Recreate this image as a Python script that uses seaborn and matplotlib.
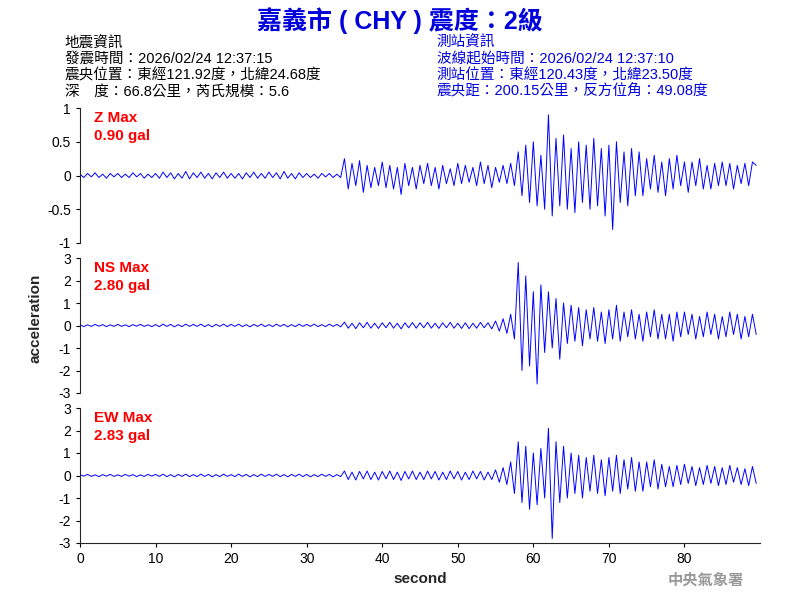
import numpy as np
import pandas as pd
import matplotlib
matplotlib.use("Agg")
import matplotlib.pyplot as plt
import seaborn as sns

sns.set_style("ticks")
plt.rcParams['font.family'] = ['Liberation Sans', 'Noto Sans CJK TC', 'DejaVu Sans']
plt.rcParams['axes.unicode_minus'] = False

# waveform samples, one every 0.5 s
z_vals = [0.02, -0.03, 0.03, -0.02, 0.04, -0.03, 0.02, -0.04, 0.03, -0.02, 0.03, -0.03, 0.02, -0.03, 0.04, -0.02, 0.03, -0.04, 0.02, -0.03,
          0.03, -0.04, 0.05, -0.03, 0.04, -0.05, 0.03, -0.04, 0.06, -0.05, 0.04, -0.03, 0.05, -0.04, 0.03, -0.05, 0.04, -0.03, 0.05, -0.04,
          0.03, -0.04, 0.03, -0.05, 0.04, -0.03, 0.05, -0.04, 0.03, -0.04, 0.05, -0.03, 0.04, -0.05, 0.06, -0.04, 0.03, -0.05, 0.04, -0.03,
          0.03, -0.03, 0.02, -0.04, 0.03, -0.02, 0.03, -0.03, 0.02, -0.03,
          0.25, -0.2, 0.18, -0.15, 0.22, -0.25, 0.15, -0.18, 0.12, -0.15, 0.2, -0.18, 0.15, -0.2, 0.12, -0.28, 0.18, -0.15, 0.12, -0.2,
          0.15, -0.12, 0.18, -0.15, 0.12, -0.2, 0.15, -0.12, 0.1, -0.15, 0.18, -0.12, 0.15, -0.1, 0.12, -0.15, 0.2, -0.12, 0.15, -0.18, 0.12, -0.1, 0.15, -0.12, 0.18, -0.15,
          0.35, -0.3, 0.45, -0.4, 0.5, -0.45, 0.3, -0.5, 0.9, -0.6, 0.55, -0.45, 0.6, -0.5, 0.4, -0.55, 0.5, -0.4, 0.45, -0.5, 0.55, -0.45, 0.4, -0.6, 0.45, -0.8, 0.5, -0.4, 0.35, -0.45, 0.4, -0.3, 0.35, -0.3,
          0.25, -0.2, 0.3, -0.25, 0.2, -0.3, 0.25, -0.2, 0.3, -0.15, 0.2, -0.25, 0.2, -0.15, 0.25, -0.2, 0.15, -0.2, 0.18, -0.15, 0.2, -0.15, 0.18, -0.2, 0.15, -0.12, 0.18, -0.15, 0.2, 0.15]

ns_vals = [0.04, -0.05, 0.03, -0.04, 0.05, -0.03, 0.04, -0.05, 0.03, -0.04, 0.05, -0.04, 0.03, -0.05, 0.04, -0.03, 0.05, -0.04, 0.03, -0.05,
           0.04, -0.05, 0.06, -0.04, 0.05, -0.06, 0.04, -0.05, 0.06, -0.04, 0.05, -0.04, 0.06, -0.05, 0.04, -0.06, 0.05, -0.04, 0.06, -0.05,
           0.05, -0.04, 0.06, -0.05, 0.04, -0.06, 0.05, -0.04, 0.06, -0.05, 0.04, -0.05, 0.06, -0.04, 0.05, -0.06, 0.04, -0.05, 0.06, -0.04,
           0.05, -0.04, 0.06, -0.05, 0.04, -0.05, 0.06, -0.04, 0.05, -0.06,
           0.15, -0.12, 0.1, -0.14, 0.12, -0.1, 0.14, -0.12, 0.1, -0.13, 0.12, -0.1, 0.14, -0.12, 0.1, -0.15, 0.12, -0.1, 0.13, -0.12,
           0.12, -0.1, 0.14, -0.12, 0.1, -0.13, 0.12, -0.1, 0.14, -0.12, 0.1, -0.13, 0.12, -0.14, 0.1, -0.12, 0.14, -0.1, 0.12, -0.15, 0.2, -0.25, 0.3, -0.35, 0.5, -0.6,
           2.8, -2.0, 2.2, -1.8, 1.5, -2.6, 1.8, -1.2, 1.5, -1.0, 1.2, -1.5, 1.0, -0.8,
           0.9, -0.7, 0.8, -0.9, 0.7, -0.6, 0.8, -0.7, 0.6, -0.8, 0.7, -0.6, 0.9, -0.7, 0.6, -0.5, 0.7, -0.6, 0.5, -0.7, 0.6, -0.5, 0.7, -0.6, 0.5,
           -0.6, 0.5, -0.7, 0.6, -0.5, 0.6, -0.4, 0.5, -0.6, 0.4, -0.5, 0.6, -0.4, 0.5, -0.6, 0.4, -0.5, 0.6, -0.4, 0.5, -0.6, 0.4, -0.5, 0.5, -0.4]

ew_vals = [0.04, -0.03, 0.05, -0.04, 0.03, -0.05, 0.04, -0.03, 0.05, -0.04, 0.03, -0.04, 0.05, -0.03, 0.04, -0.05, 0.03, -0.04, 0.05, -0.03,
           0.05, -0.04, 0.06, -0.05, 0.04, -0.06, 0.05, -0.04, 0.06, -0.05, 0.04, -0.05, 0.06, -0.04, 0.05, -0.06, 0.04, -0.05, 0.06, -0.04,
           0.04, -0.05, 0.06, -0.04, 0.05, -0.06, 0.04, -0.05, 0.06, -0.04, 0.05, -0.04, 0.06, -0.05, 0.04, -0.06, 0.05, -0.04, 0.06, -0.05,
           0.05, -0.06, 0.04, -0.05, 0.06, -0.04, 0.05, -0.06, 0.04, -0.05,
           0.2, -0.18, 0.15, -0.2, 0.18, -0.15, 0.2, -0.18, 0.15, -0.2, 0.18, -0.15, 0.2, -0.18, 0.15, -0.22, 0.18, -0.15, 0.2, -0.18,
           0.15, -0.18, 0.2, -0.15, 0.18, -0.2, 0.15, -0.18, 0.2, -0.15, 0.18, -0.2, 0.15, -0.18, 0.2, -0.15, 0.18, -0.2, 0.15, -0.18, 0.25, -0.3, 0.35, -0.4, 0.6, -0.8,
           1.5, -1.2, 1.3, -1.5, 1.0, -1.3, 1.2, -1.0, 2.1, -2.8, 1.5, -1.2, 1.3, -1.0,
           1.0, -0.8, 0.9, -1.0, 0.8, -0.7, 0.9, -0.8, 0.7, -0.9, 0.8, -0.7, 0.9, -0.8, 0.7, -0.6, 0.8, -0.7, 0.6, -0.7, 0.6, -0.5, 0.7, -0.6, 0.5,
           -0.5, 0.4, -0.5, 0.45, -0.4, 0.5, -0.35, 0.4, -0.45, 0.35, -0.4, 0.45, -0.35, 0.4, -0.45, 0.35, -0.4, 0.45, -0.3, 0.35, -0.4, 0.3, -0.45, 0.4, -0.35]

components = ["Z", "NS", "EW"]
peaks = ["0.90 gal", "2.80 gal", "2.83 gal"]
y_limits = [1, 3, 3]
x_ticks = [0, 10, 20, 30, 40, 50, 60, 70, 80]

fig = plt.figure(figsize=(8, 6), dpi=100)
rects = [[0.1, 0.595, 0.85, 0.225], [0.1, 0.345, 0.85, 0.225], [0.1, 0.095, 0.85, 0.225]]

for i, (comp, vals) in enumerate(zip(components, [z_vals, ns_vals, ew_vals])):
    df = pd.DataFrame({"t": np.arange(len(vals)) * 0.5, "a": vals})
    ax = fig.add_axes(rects[i])
    sns.lineplot(data=df, x="t", y="a", ax=ax, color="blue", linewidth=0.7)
    lim = y_limits[i]
    ax.set_ylim(-lim, lim)
    ax.set_xlim(0, 90)
    if lim == 1:
        ax.set_yticks([-1, -0.5, 0, 0.5, 1])
        ax.set_yticklabels(["-1", "-0.5", "0", "0.5", "1"])
    else:
        ax.set_yticks(range(-3, 4))
    for s in ["top", "right"]:
        ax.spines[s].set_visible(False)
    ax.set_ylabel("")
    ax.set_xlabel("")
    ax.tick_params(labelsize=10, length=3, colors="black")
    if i < 2:
        ax.spines["bottom"].set_visible(False)
        ax.set_xticks([])
    else:
        ax.set_xticks(x_ticks)
        ax.set_xlabel("second", fontsize=11, fontweight="bold")
    ax.text(0.02, 0.98, f"{comp} Max\n{peaks[i]}", transform=ax.transAxes, color="red",
            fontsize=11, fontweight="bold", va="top", linespacing=1.4)

fig.text(0.035, 0.47, "acceleration", rotation=90, fontsize=11, fontweight="bold", va="center")

fig.text(0.5, 0.965, "嘉義市 ( CHY ) 震度：2級", color="#0000dd", fontsize=18, fontweight="bold", ha="center", va="center")
left_info = ["地震資訊", "發震時間：2026/02/24 12:37:15", "震央位置：東經121.92度，北緯24.68度", "深　度：66.8公里，芮氏規模：5.6"]
right_info = ["測站資訊", "波線起始時間：2026/02/24 12:37:10", "測站位置：東經120.43度，北緯23.50度", "震央距：200.15公里，反方位角：49.08度"]
for k in range(4):
    y = 0.928 - k * 0.0267
    fig.text(0.081, y, left_info[k], color="black", fontsize=10.5, va="center", fontweight="medium")
    fig.text(0.546, y, right_info[k], color="#0000dd", fontsize=10.5, va="center", fontweight="medium")

fig.text(0.93, 0.032, "中央氣象署", color="#999999", fontsize=11, ha="right", va="center", fontweight="bold")

fig.savefig("out.png", dpi=100)
